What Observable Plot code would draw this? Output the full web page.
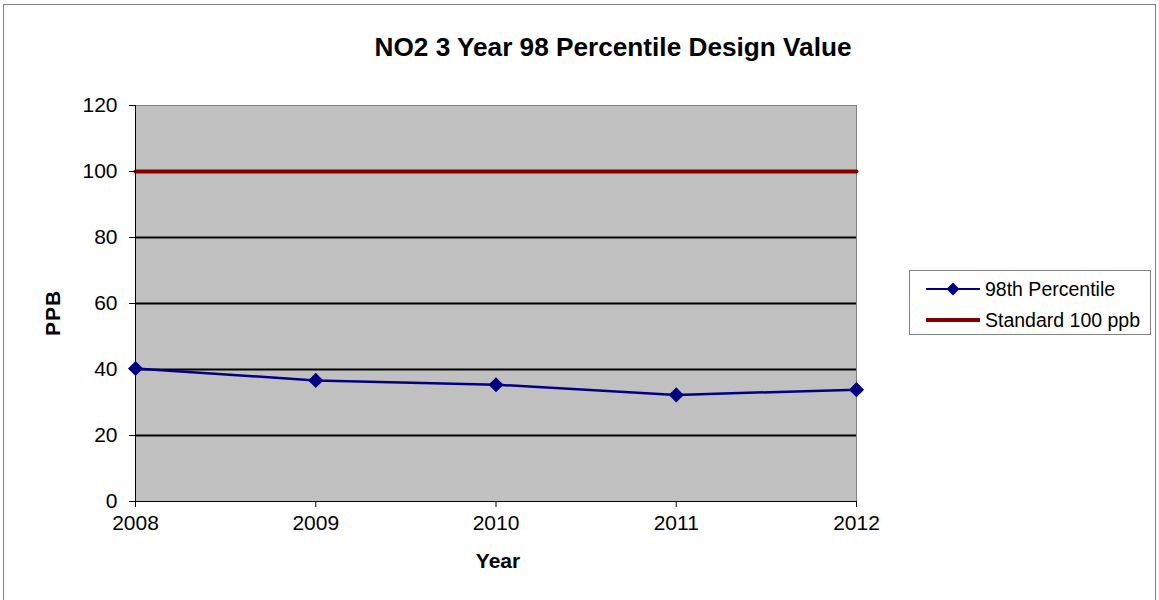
<!DOCTYPE html>
<html>
<head>
<meta charset="utf-8">
<script src="https://cdn.jsdelivr.net/npm/d3@7"></script>
<script src="https://cdn.jsdelivr.net/npm/@observablehq/plot@0.6"></script>
<style>
  html, body { margin: 0; padding: 0; background: white; }
  #wrap { position: relative; width: 1159px; height: 600px; overflow: hidden; font-family: "Liberation Sans", Arial, sans-serif; }
  #border { position: absolute; left: 3px; top: 4px; width: 1153px; height: 700px; border: 1px solid #808080; box-sizing: border-box; }
  #chart { position: absolute; left: 0; top: 0; }
  .txt { position: absolute; color: black; white-space: nowrap; }
  #title { left: 613px; top: 47px; font-size: 26.2px; font-weight: bold; transform: translate(-50%, -50%); }
  #ylab { left: 53px; top: 313px; font-size: 21px; font-weight: bold; letter-spacing: 1px; transform: translate(-50%, -50%) rotate(-90deg); }
  #xlab { left: 498px; top: 561px; font-size: 21px; font-weight: bold; transform: translate(-50%, -50%); }
  #legend { position: absolute; left: 909px; top: 270px; width: 242px; height: 65px; border: 1px solid #808080; box-sizing: border-box; background: white; }
  .lrow { position: absolute; left: 16px; height: 24px; display: flex; align-items: center; font-size: 19.5px; }
  .lrow svg { margin-right: 5px; }
</style>
</head>
<body>
<div id="wrap">
  <div id="border"></div>
  <div id="chart"></div>
  <div id="title" class="txt"></div>
  <div id="ylab" class="txt"></div>
  <div id="xlab" class="txt"></div>
  <div id="legend"></div>
</div>
<script>
const years = [2008, 2009, 2010, 2011, 2012];
const percentile98 = [40.3, 36.7, 35.4, 32.3, 33.9];
const standard100 = [100, 100, 100, 100, 100];
const yTicks = [0, 20, 40, 60, 80, 100, 120];
const gridLines = [20, 40, 60, 80];
const seriesNames = ["98th Percentile", "Standard 100 ppb"];
const seriesColors = ["#000080", "#800000"];
const titleText = "NO2 3 Year 98 Percentile Design Value";
const xTitle = "Year";
const yTitle = "PPB";

const pctData = years.map((y, i) => ({year: y, value: percentile98[i]}));
const stdData = years.map((y, i) => ({year: y, value: standard100[i]}));

const chart = Plot.plot({
  width: 1159,
  height: 600,
  marginLeft: 135,
  marginRight: 303,
  marginTop: 105,
  marginBottom: 99,
  style: { fontFamily: "'Liberation Sans', Arial, sans-serif", fontSize: "21px", background: "transparent", color: "black" },
  x: { domain: [2008, 2012] },
  y: { domain: [0, 120] },
  marks: [
    Plot.frame({ fill: "#c0c0c0", stroke: "#808080" }),
    Plot.ruleY(gridLines, { stroke: "black", strokeWidth: 2 }),
    Plot.line(stdData, { x: "year", y: "value", stroke: seriesColors[1], strokeWidth: 4 }),
    Plot.line(pctData, { x: "year", y: "value", stroke: seriesColors[0], strokeWidth: 2.5 }),
    Plot.dot(pctData, { x: "year", y: "value", symbol: "diamond2", fill: seriesColors[0], stroke: "none", r: 6.8 }),
    Plot.ruleX([2008], { stroke: "black", strokeWidth: 1 }),
    Plot.ruleY([0], { stroke: "black", strokeWidth: 1 }),
    Plot.axisY({ ticks: yTicks, tickSize: 6, tickPadding: 12, label: null, fontSize: 21, stroke: "black" }),
    Plot.axisX({ ticks: years, tickFormat: "d", tickSize: 6, tickPadding: 8, label: null, fontSize: 21, stroke: "black" })
  ]
});
document.getElementById("chart").appendChild(chart);

document.getElementById("title").textContent = titleText;
document.getElementById("ylab").textContent = yTitle;
document.getElementById("xlab").textContent = xTitle;

const legend = document.getElementById("legend");
seriesNames.forEach((name, i) => {
  const row = document.createElement("div");
  row.className = "lrow";
  row.style.top = (i === 0 ? 6 : 37) + "px";
  const svgNS = "http://www.w3.org/2000/svg";
  const s = document.createElementNS(svgNS, "svg");
  s.setAttribute("width", 54); s.setAttribute("height", 16);
  const l = document.createElementNS(svgNS, "line");
  l.setAttribute("x1", 0); l.setAttribute("x2", 54); l.setAttribute("y1", 8); l.setAttribute("y2", 8);
  l.setAttribute("stroke", seriesColors[i]); l.setAttribute("stroke-width", i === 0 ? 2 : 4);
  s.appendChild(l);
  if (i === 0) {
    const p = document.createElementNS(svgNS, "path");
    p.setAttribute("d", "M27,1.5L33.5,8L27,14.5L20.5,8Z");
    p.setAttribute("fill", seriesColors[0]);
    s.appendChild(p);
  }
  row.appendChild(s);
  const t = document.createElement("span");
  t.textContent = name;
  row.appendChild(t);
  legend.appendChild(row);
});
</script>
</body>
</html>
